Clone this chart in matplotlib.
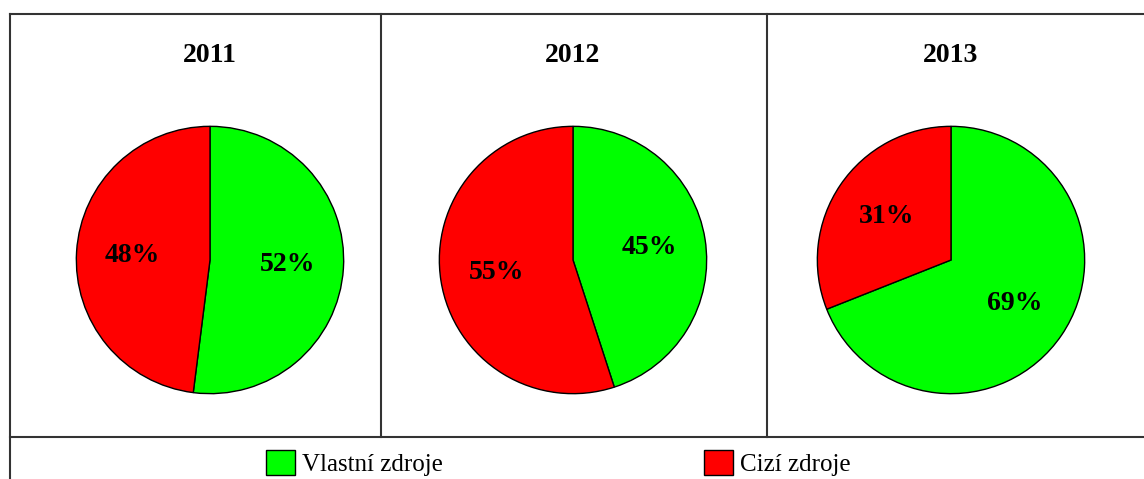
import matplotlib.pyplot as plt
from matplotlib.lines import Line2D

plt.rcParams['font.family'] = ['Liberation Serif', 'DejaVu Serif']

years = ['2011', '2012', '2013']
labels = ['Vlastní zdroje', 'Cizí zdroje']
vlastni = [52, 45, 69]
cizi = [48, 55, 31]
colors = ['#00ff00', '#ff0000']

W, H = 1144, 479
fig = plt.figure(figsize=(W / 100, H / 100), dpi=100)


def px(x, y):
    return x / W, (H - y) / H


# frame lines (pixel coords)
frame = [((10, 14), (1160, 14)), ((10, 14), (10, 490)), ((10, 437), (1160, 437)),
         ((381, 14), (381, 437)), ((767, 14), (767, 437))]
for (x0, y0), (x1, y1) in frame:
    a, b = px(x0, y0)
    c, d = px(x1, y1)
    fig.add_artist(Line2D([a, c], [b, d], transform=fig.transFigure, color='#333333', lw=1.5))

centers = [(210, 260), (573, 260), (951, 260)]
r = 135
wedges = None
for i, yr in enumerate(years):
    cx, cy = centers[i]
    l, b = px(cx - r, cy + r)
    ax = fig.add_axes([l, b, 2 * r / W, 2 * r / H])
    wedges, texts, autotexts = ax.pie([vlastni[i], cizi[i]], colors=colors, startangle=90,
                                      counterclock=False, autopct='%d%%', pctdistance=0.58,
                                      wedgeprops=dict(edgecolor='black', linewidth=1))
    for t in autotexts:
        t.set_fontsize(20)
        t.set_fontweight('bold')
    ax.set_xlim(-1.01, 1.01)
    ax.set_ylim(-1.01, 1.01)
    ax.set_aspect('auto')
    tx, ty = px(cx, 56)
    fig.text(tx, ty, yr, ha='center', va='center', fontsize=20, fontweight='bold')

legend_x = [266, 704]
for j, name in enumerate(labels):
    lx, ly = px(legend_x[j], 450)
    fig.legend(handles=[wedges[j]], labels=[name], loc='upper left', bbox_to_anchor=(lx, ly),
               frameon=False, fontsize=18, handlelength=1.15, handleheight=1.15,
               handletextpad=0.3, borderpad=0, borderaxespad=0)

fig.savefig('out.png', dpi=100)
